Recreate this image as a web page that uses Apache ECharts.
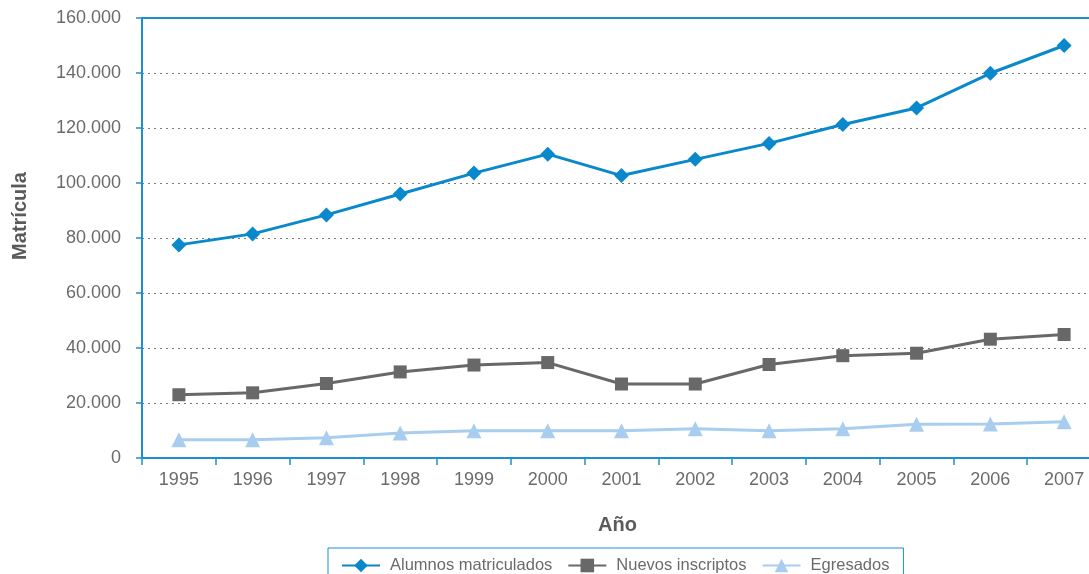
<!DOCTYPE html>
<html>
<head>
<meta charset="utf-8">
<script src="https://cdn.jsdelivr.net/npm/echarts@6/dist/echarts.min.js"></script>
<style>
  html, body { margin: 0; padding: 0; background: #ffffff; }
  #chart { width: 1089px; height: 574px; }
</style>
</head>
<body>
<div id="chart"></div>
<script>
// Años del eje horizontal
const years = ['1995', '1996', '1997', '1998', '1999', '2000', '2001', '2002', '2003', '2004', '2005', '2006', '2007'];

// Series (número de personas)
const alumnosMatriculados = [77500, 81500, 88400, 96000, 103600, 110500, 102700, 108600, 114400, 121300, 127300, 139900, 150000];
const nuevosInscriptos   = [23000, 23700, 27100, 31300, 33800, 34700, 26900, 26900, 34000, 37200, 38100, 43200, 44900];
const egresados          = [6600, 6600, 7400, 9100, 9900, 9900, 9900, 10600, 9900, 10600, 12300, 12400, 13200];

// Escala vertical
const yMin = 0, yMax = 160000, yStep = 20000;

const AXIS_BLUE = '#1a8fd2';
const TEXT_GRAY = '#6b6b6b';
const FONT = 'Liberation Sans, Arial, sans-serif';

function fmtMiles(v) {
  return String(v).replace(/\B(?=(\d{3})+(?!\d))/g, '.');
}

const chart = echarts.init(document.getElementById('chart'), null, { renderer: 'canvas' });

chart.setOption({
  animation: false,
  backgroundColor: '#ffffff',
  textStyle: { fontFamily: FONT },
  // the plot area runs past the right edge of the canvas
  grid: { left: 142, top: 18, width: 959, height: 440, outerBoundsMode: 'none', containLabel: false },
  legend: {
    top: 548,
    left: 328,
    padding: [9, 14, 14, 13],
    borderColor: AXIS_BLUE,
    borderWidth: 1,
    itemGap: 15,
    itemWidth: 38,
    itemHeight: 17,
    textStyle: { color: TEXT_GRAY, fontSize: 16.5, fontFamily: FONT, padding: [0, 0, 0, 5] },
    data: ['Alumnos matriculados', 'Nuevos inscriptos', 'Egresados']
  },
  xAxis: [
    {
      type: 'category',
      data: years,
      boundaryGap: true,
      name: 'Año',
      nameLocation: 'middle',
      nameGap: 57,
      nameTextStyle: { color: '#5a5a5a', fontSize: 20, fontWeight: 'bold', fontFamily: FONT, padding: [0, 8, 0, 0] },
      axisLine: { lineStyle: { color: AXIS_BLUE, width: 2 } },
      axisTick: { show: true, length: 7, inside: false, lineStyle: { color: AXIS_BLUE, width: 1.5 } },
      axisLabel: { color: TEXT_GRAY, fontSize: 18, margin: 13, fontFamily: FONT },
      splitLine: { show: false }
    },
    {
      type: 'category',
      data: years,
      position: 'top',
      axisLine: { show: true, lineStyle: { color: AXIS_BLUE, width: 2 } },
      axisTick: { show: false },
      axisLabel: { show: false },
      splitLine: { show: false }
    }
  ],
  yAxis: {
    type: 'value',
    min: yMin,
    max: yMax,
    interval: yStep,
    name: 'Matrícula',
    nameLocation: 'middle',
    nameGap: 112,
    nameRotate: 90,
    nameTextStyle: { color: '#5a5a5a', fontSize: 20, fontWeight: 'bold', fontFamily: FONT, padding: [0, 0, 0, 44] },
    axisLine: { show: true, lineStyle: { color: AXIS_BLUE, width: 2 } },
    axisTick: { show: true, length: 6, inside: false, lineStyle: { color: AXIS_BLUE, width: 1.5 } },
    axisLabel: { color: TEXT_GRAY, fontSize: 18, margin: 21, fontFamily: FONT, formatter: fmtMiles },
    splitLine: { show: true, lineStyle: { color: '#7a7a7a', type: [2, 4], width: 1.2 } }
  },
  series: [
    {
      name: 'Alumnos matriculados',
      type: 'line',
      data: alumnosMatriculados,
      symbol: 'diamond',
      symbolSize: 15,
      z: 5,
      itemStyle: { color: '#0a88cc' },
      lineStyle: { color: '#0a88cc', width: 3 }
    },
    {
      name: 'Nuevos inscriptos',
      type: 'line',
      data: nuevosInscriptos,
      symbol: 'rect',
      symbolSize: 13,
      z: 4,
      itemStyle: { color: '#686868' },
      lineStyle: { color: '#686868', width: 3 }
    },
    {
      name: 'Egresados',
      type: 'line',
      data: egresados,
      symbol: 'triangle',
      symbolSize: 15,
      z: 3,
      itemStyle: { color: '#a8cdee' },
      lineStyle: { color: '#a8cdee', width: 3 }
    }
  ]
});
</script>
</body>
</html>
